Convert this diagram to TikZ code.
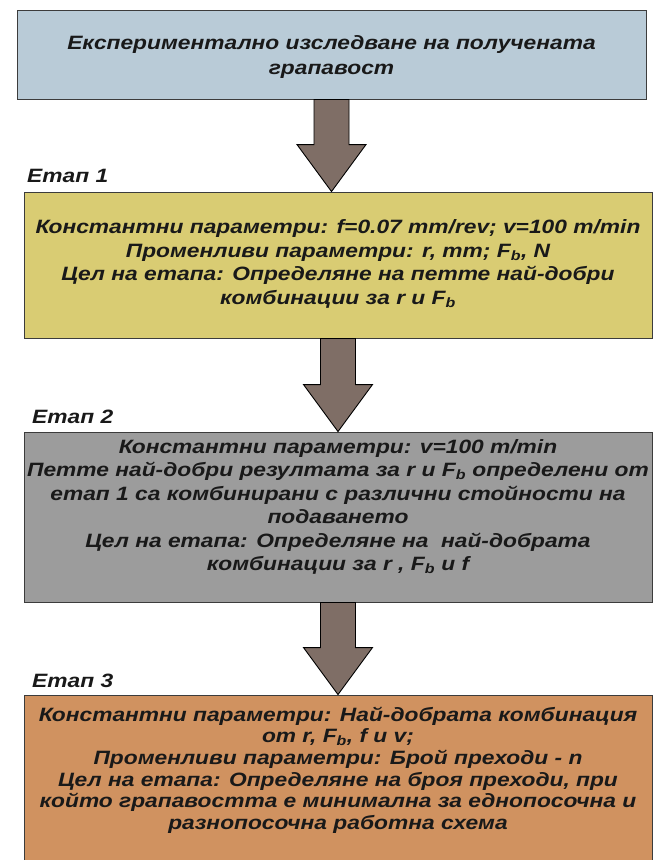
\documentclass[tikz,border=0pt]{standalone}
\usepackage{fontspec}
\setmainfont{Liberation Sans}[FakeStretch=1.18]
\usepackage{xcolor}
\usetikzlibrary{calc}

\definecolor{titleblue}{RGB}{185,203,215}
\definecolor{stageyellow}{RGB}{217,204,115}
\definecolor{stagegray}{RGB}{156,156,156}
\definecolor{stageorange}{RGB}{208,146,96}
\definecolor{arrowbrown}{RGB}{127,110,102}
\definecolor{boxline}{RGB}{60,60,60}
\definecolor{inktext}{RGB}{25,25,25}

\tikzset{
  stagebox/.style={draw=boxline, line width=0.9pt, inner sep=0pt, minimum width=628pt},
  stagetext/.style={align=center, text=inktext, inner sep=0pt,
    font=\fontsize{19.3}{23.5}\selectfont\bfseries\itshape},
  stagelabel/.style={anchor=base west, text=inktext, inner sep=0pt,
    font=\fontsize{19.3}{22}\selectfont\bfseries\itshape},
  bigarrow/.style={draw=black, fill=arrowbrown, line width=0.9pt, line join=miter}
}

% block arrow from one box down to the next
\newcommand{\stagearrow}[2]{%
  \draw[bigarrow] ($(#1)+(-17.5,0)$) -- ($(#1 |- #2)+(-17.5,-47)$)
    -- ($(#1 |- #2)+(-34.5,-47)$) -- (#1 |- #2)
    -- ($(#1 |- #2)+(34.5,-47)$) -- ($(#1 |- #2)+(17.5,-47)$)
    -- ($(#1)+(17.5,0)$) -- cycle;}

\begin{document}
\begin{tikzpicture}[x=1pt,y=-1pt]

\useasboundingbox (0,0) rectangle (662,860);
\clip (0,0) rectangle (662,860);

% Boxes
\node[stagebox, fill=titleblue, minimum width=629pt, minimum height=89pt] (title) at (331.5,54.5) {};
\node[stagebox, fill=stageyellow, minimum height=146pt] (etap1) at (338,265) {};
\node[stagebox, fill=stagegray, minimum height=170pt] (etap2) at (338,517) {};
\node[stagebox, fill=stageorange, minimum height=185pt] (etap3) at (338,787.5) {};

% Arrows
\stagearrow{title.south}{etap1.north}
\stagearrow{etap1.south}{etap2.north}
\stagearrow{etap2.south}{etap3.north}

% Stage labels
\node[stagelabel] (label1) at (27,182) {Етап 1};
\node[stagelabel] (label2) at (32,423) {Етап 2};
\node[stagelabel] (label3) at (32,687) {Етап 3};

% Box texts
\node[stagetext, font=\fontsize{19.3}{25}\selectfont\bfseries\itshape] (titletext) at (331.5,57)
  {Експериментално изследване на получената\\грапавост};

\node[stagetext] (text1) at (338,264)
  {Константни параметри: f=0.07 mm/rev; v=100 m/min\\
   Променливи параметри: r, mm; F\textsubscript{b}, N\\
   Цел на етапа: Определяне на петте най-добри\\
   комбинации за r и F\textsubscript{b}};

\node[stagetext] (text2) at (338,507)
  {Константни параметри: v=100 m/min\\
   Петте най-добри резултата за r и F\textsubscript{b} определени от\\
   етап 1 са комбинирани с различни стойности на\\
   подаването\\
   Цел на етапа: Определяне на~ най-добрата\\
   комбинации за r , F\textsubscript{b} и f};

\node[stagetext, font=\fontsize{19.3}{21.6}\selectfont\bfseries\itshape] (text3) at (338,770)
  {Константни параметри: Най-добрата комбинация\\
   от r, F\textsubscript{b}, f и v;\\
   Променливи параметри: Брой преходи - n\\
   Цел на етапа: Определяне на броя преходи, при\\
   който грапавостта е минимална за еднопосочна и\\
   разнопосочна работна схема};

\end{tikzpicture}
\end{document}
